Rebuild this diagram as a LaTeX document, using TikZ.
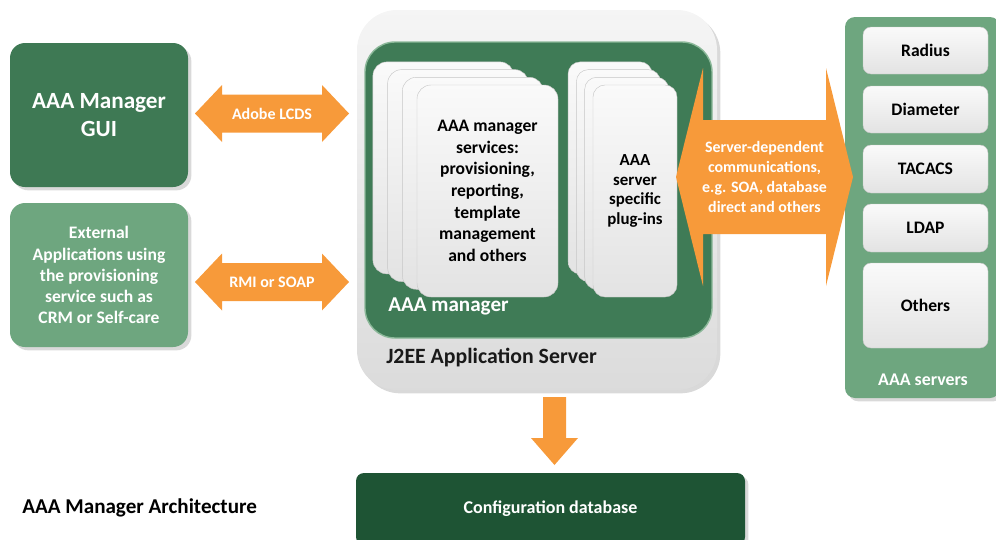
\documentclass[tikz,border=0pt]{standalone}
\usepackage{fontspec}
\setmainfont{Carlito}
\usetikzlibrary{shadows,calc}
\definecolor{darkgreen}{HTML}{3E7954}
\definecolor{lightgreen}{HTML}{6EA67F}
\definecolor{mgrgreen}{HTML}{3F7B56}
\definecolor{dbgreen}{HTML}{1E5434}
\definecolor{arroworange}{HTML}{F79A3A}
\newcommand{\pxu}{0.025cm}
\tikzset{
  greenbox/.style={rounded corners=15*\pxu, text=white, align=center, drop shadow={opacity=0.3}},
  card/.style={rounded corners=14*\pxu, top color=gray!4, bottom color=gray!22, draw=gray!45, line width=0.3pt, align=center, font=\bfseries\fontsize{12.5}{15.4}\selectfont},
  srvbox/.style={rounded corners=8*\pxu, top color=gray!4, bottom color=gray!22, draw=gray!45, line width=0.3pt, minimum width=125*\pxu, font=\bfseries\fontsize{12.5}{15}\selectfont},
  fatarrow/.style={fill=arroworange},
  arrowtext/.style={text=white, align=center, font=\bfseries\fontsize{11.3}{14.2}\selectfont},
  label/.style={anchor=west, inner sep=0pt}
}
\begin{document}
\begin{tikzpicture}[x=\pxu, y=-\pxu]
  \useasboundingbox (0,0) rectangle (996,540);
  \node[greenbox, fill=darkgreen, minimum width=178*\pxu, minimum height=144*\pxu, font=\bfseries\fontsize{16.5}{20}\selectfont] (gui) at (99,115) {AAA Manager\\GUI};
  \node[greenbox, fill=lightgreen, minimum width=178*\pxu, minimum height=144*\pxu, font=\bfseries\fontsize{12.5}{15}\selectfont] (ext) at (99,275) {External\\Applications using\\the provisioning\\service such as\\CRM or Self-care};

  \node[rounded corners=40*\pxu, top color=gray!8, bottom color=gray!28, minimum width=360*\pxu, minimum height=380*\pxu, drop shadow={opacity=0.3}] (j2ee) at (537,200) {};
  \node[rounded corners=30*\pxu, fill=mgrgreen, draw=lightgreen!80, line width=1pt, minimum width=347*\pxu, minimum height=296*\pxu] (mgr) at (538.5,190) {};
  \foreach \k in {3,2,1}
    \node[card, minimum width=141*\pxu, minimum height=212*\pxu] (svc\k) at ({487.5-14.7*\k},{191-7.7*\k}) {};
  \node[card, minimum width=141*\pxu, minimum height=212*\pxu] (svc) at (487.5,191) {AAA manager\\services:\\provisioning,\\reporting,\\template\\management\\and others};
  \foreach \k in {3,2,1}
    \node[card, rounded corners=12*\pxu, minimum width=84*\pxu, minimum height=212*\pxu] (plug\k) at ({635-8.3*\k},{191-7.7*\k}) {};
  \node[card, rounded corners=12*\pxu, minimum width=84*\pxu, minimum height=212*\pxu, font=\bfseries\fontsize{12}{14}\selectfont] (plug) at (635,191) {AAA\\server\\specific\\plug-ins};
  \node[label, text=white, font=\bfseries\fontsize{15}{18}\selectfont] (mgrlabel) at (388,306) {AAA manager};
  \node[label, text=black!90, font=\bfseries\fontsize{15.5}{18}\selectfont] (j2eelabel) at (386,358) {J2EE Application Server};

  \node[rounded corners=10*\pxu, fill=lightgreen, minimum width=155*\pxu, minimum height=381*\pxu, drop shadow={opacity=0.3}] (aaasrv) at (922.5,207.5) {};
  \node[srvbox, minimum height=47*\pxu] (radius) at (925.5,50.5) {Radius};
  \node[srvbox, minimum height=47*\pxu] (diameter) at (925.5,109.5) {Diameter};
  \node[srvbox, minimum height=48*\pxu] (tacacs) at (925.5,169) {TACACS};
  \node[srvbox, minimum height=48*\pxu] (ldap) at (925.5,228) {LDAP};
  \node[srvbox, minimum height=85*\pxu] (others) at (925.5,305.5) {Others};
  \node[text=white, font=\bfseries\fontsize{12.7}{15}\selectfont] (srvlabel) at (923,380) {AAA servers};

  \coordinate (lcdsL) at (195,113.5);
  \coordinate (lcdsR) at (349,113.5);
  \fill[fatarrow] (lcdsL) -- ++(27,-28.5) -- ++(0,9.5) -- ++(100,0) -- ++(0,-9.5) -- (lcdsR) -- ++(-27,28.5) -- ++(0,-9.5) -- ++(-100,0) -- ++(0,9.5) -- cycle;
  \node[arrowtext, font=\bfseries\fontsize{11.4}{14}\selectfont] (lcds) at ($(lcdsL)!0.5!(lcdsR)$) {Adobe LCDS};

  \coordinate (rmiL) at (195,282);
  \coordinate (rmiR) at (349,282);
  \fill[fatarrow] (rmiL) -- ++(27,-28.5) -- ++(0,9.5) -- ++(100,0) -- ++(0,-9.5) -- (rmiR) -- ++(-27,28.5) -- ++(0,-9.5) -- ++(-100,0) -- ++(0,9.5) -- cycle;
  \node[arrowtext, font=\bfseries\fontsize{11.4}{14}\selectfont] (rmi) at ($(rmiL)!0.5!(rmiR)$) {RMI or SOAP};

  \coordinate (srvL) at (676,177);
  \coordinate (srvR) at (853,177);
  \fill[fatarrow] (srvL) -- ++(27,-109) -- ++(0,52) -- ++(123,0) -- ++(0,-52) -- (srvR) -- ++(-27,109) -- ++(0,-52) -- ++(-123,0) -- ++(0,52) -- cycle;
  \node[arrowtext] (srvcomm) at ($(srvL)!0.5!(srvR)$) {Server-dependent\\communications,\\e.g. SOA, database\\direct and others};

  \node[rounded corners=8*\pxu, fill=dbgreen, minimum width=389*\pxu, minimum height=72*\pxu, text=white, font=\bfseries\fontsize{12.8}{15}\selectfont, drop shadow={opacity=0.3}] (db) at (550.5,509) {Configuration database};
  \coordinate (dbin) at (554.5,397);
  \coordinate (dbtip) at (554.5,465);
  \fill[fatarrow] ($(dbin)+(-11.5,0)$) -- ++(23,0) -- ++(0,41) -- ++(12,0) -- (dbtip) -- ++(-23.5,-27) -- ++(12,0) -- cycle;

  \node[label, font=\bfseries\fontsize{15}{18}\selectfont] (title) at (22,508) {AAA Manager Architecture};
\end{tikzpicture}
\end{document}
